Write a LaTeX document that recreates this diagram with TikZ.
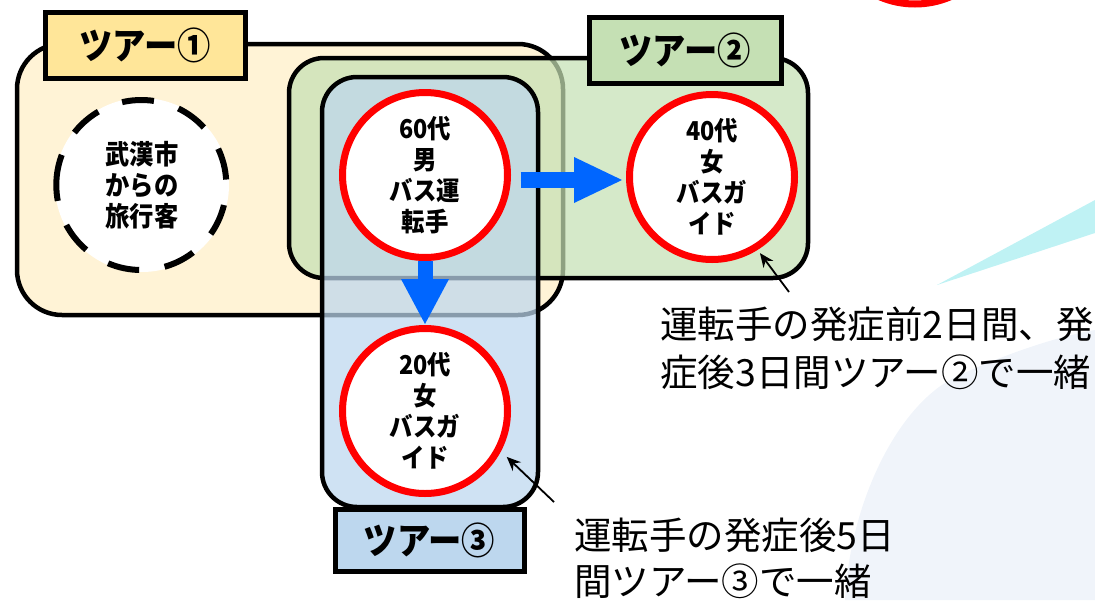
\documentclass[tikz,border=0pt]{standalone}
\usepackage{fontspec}
\newfontfamily\cjk{Noto Sans CJK JP}
\newfontfamily\cjkn{Noto Sans CJK JP}[FakeStretch=0.9]
\usetikzlibrary{arrows.meta}
\definecolor{creamfill}{HTML}{FFF3D6}
\definecolor{goldtag}{HTML}{FFE699}
\definecolor{greenfill}{HTML}{C5E0B4}
\definecolor{bluefill}{HTML}{BDD7EE}
\definecolor{arrowblue}{HTML}{0066FF}
\definecolor{pale}{HTML}{F0F4FA}
\definecolor{cyanswoosh}{HTML}{BFF2F4}
\begin{document}
\begin{tikzpicture}[x=1pt,y=-1pt,
  tourbox/.style={draw=black, line width=4.5pt, inner sep=0pt},
  tourtag/.style={draw=black, line width=5pt, inner sep=0pt, font=\cjkn\bfseries\fontsize{37}{37}\selectfont},
  person/.style={circle, draw=red, line width=7pt, fill=white, minimum size=165pt, inner sep=0pt, align=center, font=\cjkn\bfseries\fontsize{26}{31}\selectfont},
  bigarrow/.style={draw=arrowblue, fill=arrowblue, line width=16pt, -{Triangle[length=48pt,width=46pt,line width=0pt]}},
  note/.style={font=\cjk\fontsize{37.5}{48}\selectfont, inner sep=0pt, anchor=base west},
  pointer/.style={draw=black, line width=1.8pt, -{Stealth[length=14pt,width=12pt]}}
]
\useasboundingbox (0,0) rectangle (1095,600);
\begin{scope}
\clip (0,0) rectangle (1095,600);
\fill[pale] (845,600) .. controls (850,500) and (900,400) .. (960,375) .. controls (1010,352) and (1060,336) .. (1095,330) -- (1095,600) -- cycle;
\fill[cyanswoosh] (937,285) -- (1095,200) -- (1095,233) -- cycle;
\draw[red, line width=7pt] (915,-86) circle[radius=90];
\end{scope}

% Tour 1
\node[tourbox, fill=creamfill, rounded corners=45pt, minimum width=546pt, minimum height=271pt] (t1) at (290,179.5) {};
\node[tourtag, fill=goldtag, minimum width=200pt, minimum height=66pt] (g1) at (145,45) {ツアー①};
\node[circle, fill=white, minimum size=174pt, inner sep=0pt, align=center, font=\cjkn\bfseries\fontsize{27}{31}\selectfont] (trav) at (142,185) {武漢市\\からの\\旅行客};
\draw[line width=6pt, dash pattern=on 32pt off 25.7pt, dash phase=16pt] (trav.west) ++(1.5,0) arc[start angle=180, end angle=-180, radius=85];

% Tour 2
\node[tourbox, fill=greenfill, fill opacity=0.72, rounded corners=35pt, minimum width=519pt, minimum height=220pt] (t2) at (548.5,168) {};
\node[tourtag, fill=greenfill, minimum width=192pt, minimum height=66pt] (g2) at (685,50) {ツアー②};
\node[person] (c40) at (712,177) {40代\\女\\バスガ\\イド};

% Tour 3
\node[tourbox, fill=bluefill, fill opacity=0.72, rounded corners=35pt, minimum width=216pt, minimum height=430pt] (t3) at (430,292) {};
\node[tourtag, fill=bluefill, minimum width=189pt, minimum height=62pt] (g3) at (429.5,540) {ツアー③};

\node[person] (c60) at (425,175) {60代\\男\\バス運\\転手};
\node[person] (c20) at (425,411) {20代\\女\\バスガ\\イド};

% transmission arrows
\draw[bigarrow, shorten <=9.5pt, shorten >=4pt] ([yshift=-5pt]c60.east) -- ([yshift=-3pt]c40.west);
\draw[draw=arrowblue, line width=15pt, -{Triangle[length=45pt,width=48pt,line width=0pt]}, shorten >=1pt] (c60.south) -- (c20.north);

% annotations
\coordinate (p1) at (789,292);
\coordinate (p2) at (554,502);
\draw[pointer, shorten >=4pt] (p1) -- (c40.-58);
\draw[pointer, shorten >=8pt] (p2) -- (c20.-28);

\node[note] (n1a) at (660,338) {運転手の発症前2日間、発};
\node[note] (n1b) at (660,386) {症後3日間ツアー②で一緒};
\node[note] (n2a) at (574,549) {運転手の発症後5日};
\node[note] (n2b) at (574,595) {間ツアー③で一緒};
\end{tikzpicture}
\end{document}
